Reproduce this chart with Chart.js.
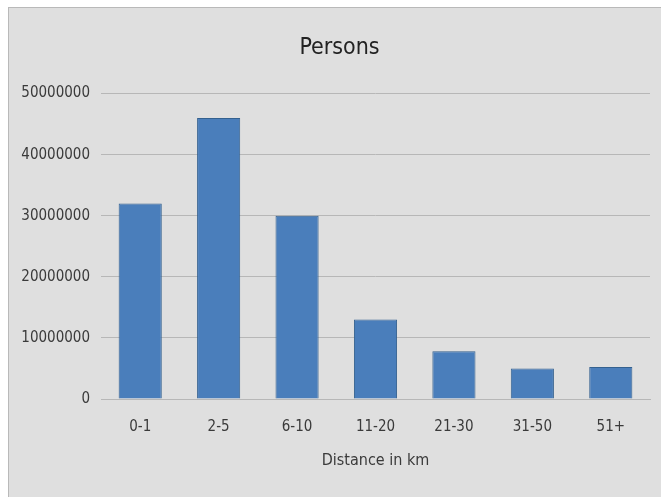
<!DOCTYPE html>
<html>
<head>
<meta charset="utf-8">
<script src="https://cdn.jsdelivr.net/npm/chart.js@4.4.1/dist/chart.umd.min.js"></script>
<style>
  html, body { margin: 0; padding: 0; background: #ffffff; overflow: hidden; }
  #frame {
    position: absolute; left: 8px; top: 7px;
    width: 652px; height: 489px;
    background: #dfdfdf;
    border-left: 1px solid #b9b9b9;
    border-top: 1px solid #b9b9b9;
    overflow: hidden;
  }
  #chart { display: block; }
</style>
</head>
<body>
<div id="frame"><canvas id="chart" width="661" height="489"></canvas></div>
<script>
// Trips by distance band
const categories = ['0-1', '2-5', '6-10', '11-20', '21-30', '31-50', '51+'];
const persons = [32000000, 46000000, 30000000, 13000000, 7800000, 5000000, 5250000];
const yTicks = [0, 10000000, 20000000, 30000000, 40000000, 50000000];

const FONT = '"DejaVu Sans Condensed", "Liberation Sans", sans-serif';
const TEXT = '#3a3a3a';
const GRID = '#b7b7b7';

new Chart(document.getElementById('chart'), {
  type: 'bar',
  data: {
    labels: categories,
    datasets: [{
      label: 'Persons',
      data: persons,
      backgroundColor: '#4a7ebb',
      borderColor: '#34618f',
      borderWidth: 1,
      categoryPercentage: 1,
      barPercentage: 0.55
    }]
  },
  options: {
    responsive: false,
    animation: false,
    layout: { padding: 0 },
    plugins: {
      legend: { display: false },
      tooltip: { enabled: false },
      title: {
        display: true,
        text: 'Persons',
        color: '#222222',
        font: { family: FONT, size: 23, weight: 'normal' },
        padding: { top: 26, bottom: 32 }
      }
    },
    scales: {
      x: {
        grid: { display: false, drawTicks: false },
        border: { display: true, color: GRID, width: 1 },
        ticks: { color: TEXT, font: { family: FONT, size: 15 }, padding: 19, maxRotation: 0 },
        title: {
          display: true,
          text: 'Distance in km',
          color: TEXT,
          font: { family: FONT, size: 16 },
          padding: { top: 0, bottom: 27 }
        },
        afterFit: (s) => { s.height = 98; }
      },
      y: {
        min: 0,
        max: 50000000,
        afterBuildTicks: (s) => { s.ticks = yTicks.map(v => ({ value: v })); },
        grid: { color: GRID, lineWidth: 1, drawTicks: false },
        border: { display: false },
        ticks: { color: TEXT, font: { family: FONT, size: 15 }, padding: 11, callback: (v) => String(v) },
        afterFit: (s) => { s.width = 92; }
      },
      // empty right-hand margin strip beside the plot
      yRight: {
        type: 'linear',
        position: 'right',
        display: true,
        grid: { display: false, drawTicks: false },
        border: { display: false },
        ticks: { display: false },
        afterFit: (s) => { s.width = 20; }
      }
    }
  }
});
</script>
</body>
</html>
